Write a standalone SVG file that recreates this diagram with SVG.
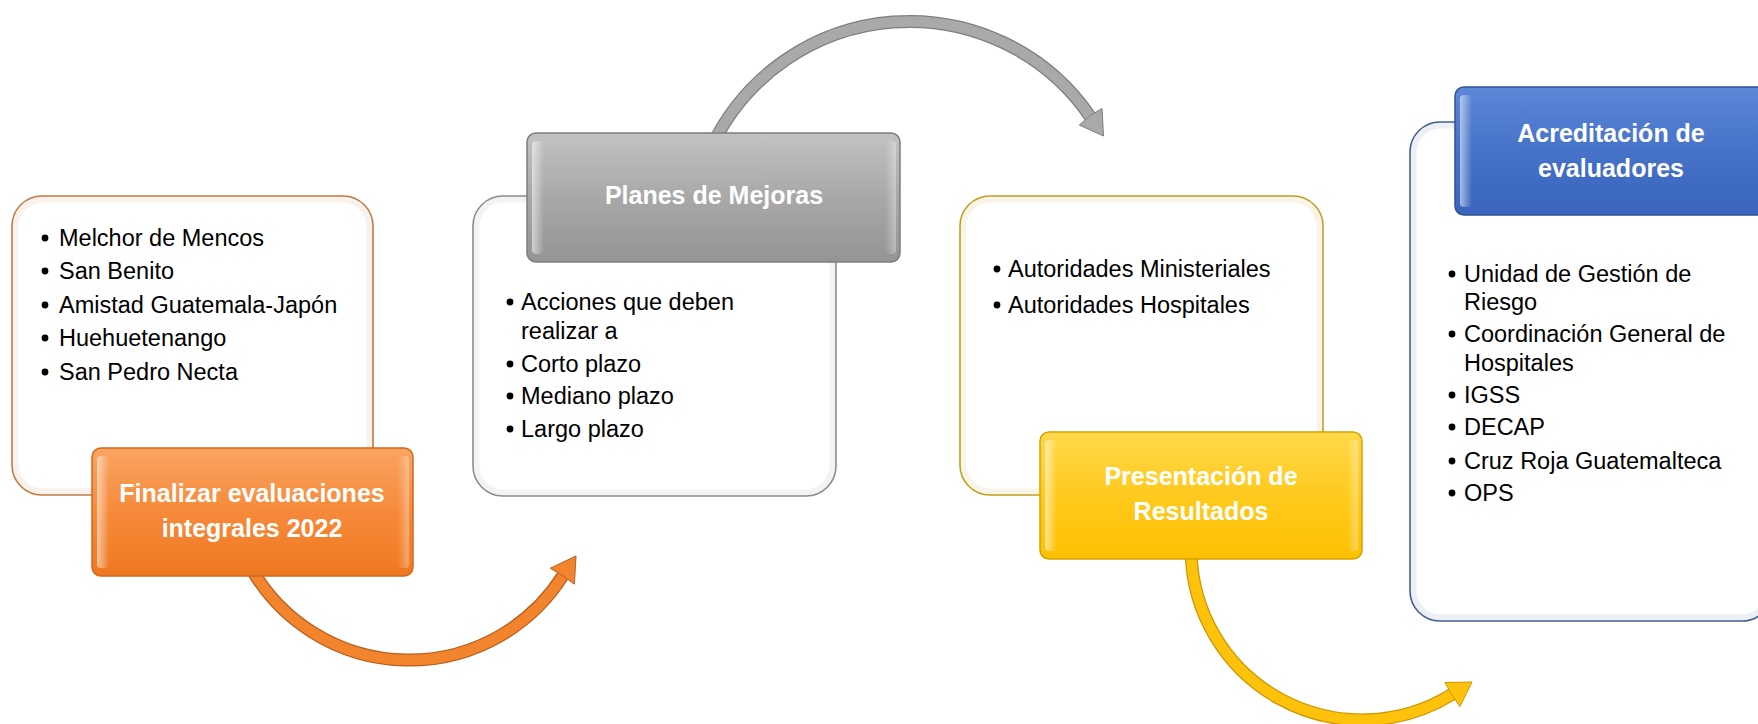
<svg xmlns="http://www.w3.org/2000/svg" width="1758" height="724" viewBox="0 0 1758 724">
<defs>
<linearGradient id="gOr" x1="0" y1="0" x2="0" y2="1"><stop offset="0" stop-color="#FAA462"/><stop offset="0.5" stop-color="#F68A3A"/><stop offset="1" stop-color="#EF7821"/></linearGradient>
<linearGradient id="gGr" x1="0" y1="0" x2="0" y2="1"><stop offset="0" stop-color="#C2C2C2"/><stop offset="0.5" stop-color="#A8A8A8"/><stop offset="1" stop-color="#949494"/></linearGradient>
<linearGradient id="gYe" x1="0" y1="0" x2="0" y2="1"><stop offset="0" stop-color="#FFD84A"/><stop offset="0.5" stop-color="#FFCA1E"/><stop offset="1" stop-color="#FDC000"/></linearGradient>
<linearGradient id="gBl" x1="0" y1="0" x2="0" y2="1"><stop offset="0" stop-color="#5D88D8"/><stop offset="0.5" stop-color="#4672C8"/><stop offset="1" stop-color="#3A64BD"/></linearGradient>
<linearGradient id="hl" x1="0" y1="0" x2="1" y2="0"><stop offset="0" stop-color="#FFFFFF" stop-opacity="0.55"/><stop offset="1" stop-color="#FFFFFF" stop-opacity="0"/></linearGradient>
<linearGradient id="sh" x1="0" y1="0" x2="1" y2="0"><stop offset="0" stop-color="#FFFFFF" stop-opacity="0"/><stop offset="1" stop-color="#FFFFFF" stop-opacity="0.35"/></linearGradient>
</defs>
<style>
.box{fill:#FFFFFF;stroke-width:1.6}
.glow{fill:none;stroke-width:6;stroke-opacity:0.10}
.hdr{stroke-width:1.5}
.t{font-family:"Liberation Sans",Arial,sans-serif;font-size:23.5px;fill:#000000}
.h{font-family:"Liberation Sans",Arial,sans-serif;font-size:25px;font-weight:bold;fill:#FFFFFF;text-anchor:middle}
.b{fill:#000000}
.hlL{fill:url(#hl)}
.shR{fill:url(#sh)}
</style>
<rect width="1758" height="724" fill="#FFFFFF"/>

<g id="connectors">
  <g id="arrow-orange">
    <path d="M252.5,570.6 A182,182 0 0 0 562.6,576.1" fill="none" stroke="#B85E1C" stroke-width="13"/>
    <path d="M252.5,570.6 A182,182 0 0 0 562.6,576.1" fill="none" stroke="#F3842E" stroke-width="10.5"/>
    <polygon points="576,556 574.4,584.2 564,576.5 550.3,568.2" fill="#F3842E" stroke="#B85E1C" stroke-width="1"/>
  </g>
  <g id="arrow-gray">
    <path d="M712,146 A219,219 0 0 1 1090.7,117.3" fill="none" stroke="#7E7E7E" stroke-width="13"/>
    <path d="M712,146 A219,219 0 0 1 1090.7,117.3" fill="none" stroke="#A9A9A9" stroke-width="10.5"/>
    <polygon points="1103.5,136 1079.3,125 1089.5,116 1102,108.5" fill="#A9A9A9" stroke="#7E7E7E" stroke-width="1"/>
  </g>
  <g id="arrow-yellow">
    <path d="M1191.1,550 A171,171 0 0 0 1452.6,694" fill="none" stroke="#C99700" stroke-width="13"/>
    <path d="M1191.1,550 A171,171 0 0 0 1452.6,694" fill="none" stroke="#FFC20A" stroke-width="10.5"/>
    <polygon points="1472,682 1460,706.5 1451.5,694.5 1445,682.5" fill="#FFC20A" stroke="#C99700" stroke-width="1"/>
  </g>
</g>

<g id="node-finalizar">
  <rect class="box" x="12" y="196" width="361" height="299" rx="30" stroke="#C27B40"/>
  <rect class="glow" x="15.5" y="199.5" width="354" height="292" rx="27" stroke="#C27B40"/>
  <circle class="b" cx="45" cy="238" r="3.4"/><text class="t" x="59" y="246">Melchor de Mencos</text>
  <circle class="b" cx="45" cy="271" r="3.4"/><text class="t" x="59" y="279">San Benito</text>
  <circle class="b" cx="45" cy="305" r="3.4"/><text class="t" x="59" y="313">Amistad Guatemala-Japón</text>
  <circle class="b" cx="45" cy="338" r="3.4"/><text class="t" x="59" y="346">Huehuetenango</text>
  <circle class="b" cx="45" cy="372" r="3.4"/><text class="t" x="59" y="380">San Pedro Necta</text>
  <rect class="hdr" x="92" y="448" width="321" height="128" rx="9" fill="url(#gOr)" stroke="#D06A1E"/>
  <rect class="hlL" x="97" y="456" width="12" height="112" rx="4"/>
  <rect class="shR" x="398" y="456" width="11" height="112" rx="4"/>
  <text class="h" x="252" y="502">Finalizar evaluaciones</text>
  <text class="h" x="252" y="537">integrales 2022</text>
</g>

<g id="node-planes">
  <rect class="box" x="473" y="196" width="363" height="300" rx="30" stroke="#8C8C8C"/>
  <rect class="glow" x="476.5" y="199.5" width="356" height="293" rx="27" stroke="#8C8C8C"/>
  <circle class="b" cx="510" cy="302" r="3.4"/><text class="t" x="521" y="310">Acciones que deben</text>
  <text class="t" x="521" y="339">realizar a</text>
  <circle class="b" cx="510" cy="364" r="3.4"/><text class="t" x="521" y="372">Corto plazo</text>
  <circle class="b" cx="510" cy="396" r="3.4"/><text class="t" x="521" y="404">Mediano plazo</text>
  <circle class="b" cx="510" cy="429" r="3.4"/><text class="t" x="521" y="437">Largo plazo</text>
  <rect class="hdr" x="527" y="133" width="373" height="129" rx="9" fill="url(#gGr)" stroke="#7E7E7E"/>
  <rect class="hlL" x="532" y="141" width="12" height="113" rx="4"/>
  <rect class="shR" x="885" y="141" width="11" height="113" rx="4"/>
  <text class="h" x="714" y="204">Planes de Mejoras</text>
</g>

<g id="node-presentacion">
  <rect class="box" x="960" y="196" width="363" height="299" rx="30" stroke="#BFA11E"/>
  <rect class="glow" x="963.5" y="199.5" width="356" height="292" rx="27" stroke="#BFA11E"/>
  <circle class="b" cx="997" cy="269" r="3.4"/><text class="t" x="1008" y="277">Autoridades Ministeriales</text>
  <circle class="b" cx="997" cy="305" r="3.4"/><text class="t" x="1008" y="313">Autoridades Hospitales</text>
  <rect class="hdr" x="1040" y="432" width="322" height="127" rx="9" fill="url(#gYe)" stroke="#D4A300"/>
  <rect class="hlL" x="1045" y="440" width="12" height="111" rx="4"/>
  <rect class="shR" x="1347" y="440" width="11" height="111" rx="4"/>
  <text class="h" x="1201" y="485">Presentación de</text>
  <text class="h" x="1201" y="520">Resultados</text>
</g>

<g id="node-acreditacion">
  <rect class="box" x="1410" y="122" width="362" height="499" rx="30" stroke="#41608F"/>
  <rect class="glow" x="1413.5" y="125.5" width="355" height="492" rx="27" stroke="#41608F"/>
  <circle class="b" cx="1452" cy="274" r="3.4"/><text class="t" x="1464" y="282">Unidad de Gestión de</text>
  <text class="t" x="1464" y="310">Riesgo</text>
  <circle class="b" cx="1452" cy="334" r="3.4"/><text class="t" x="1464" y="342">Coordinación General de</text>
  <text class="t" x="1464" y="371">Hospitales</text>
  <circle class="b" cx="1452" cy="395" r="3.4"/><text class="t" x="1464" y="403">IGSS</text>
  <circle class="b" cx="1452" cy="427" r="3.4"/><text class="t" x="1464" y="435">DECAP</text>
  <circle class="b" cx="1452" cy="461" r="3.4"/><text class="t" x="1464" y="469">Cruz Roja Guatemalteca</text>
  <circle class="b" cx="1452" cy="493" r="3.4"/><text class="t" x="1464" y="501">OPS</text>
  <rect class="hdr" x="1455" y="87" width="316" height="128" rx="9" fill="url(#gBl)" stroke="#2F528F"/>
  <rect class="hlL" x="1460" y="95" width="12" height="112" rx="4"/>
  <text class="h" x="1611" y="142">Acreditación de</text>
  <text class="h" x="1611" y="177">evaluadores</text>
</g>
</svg>
